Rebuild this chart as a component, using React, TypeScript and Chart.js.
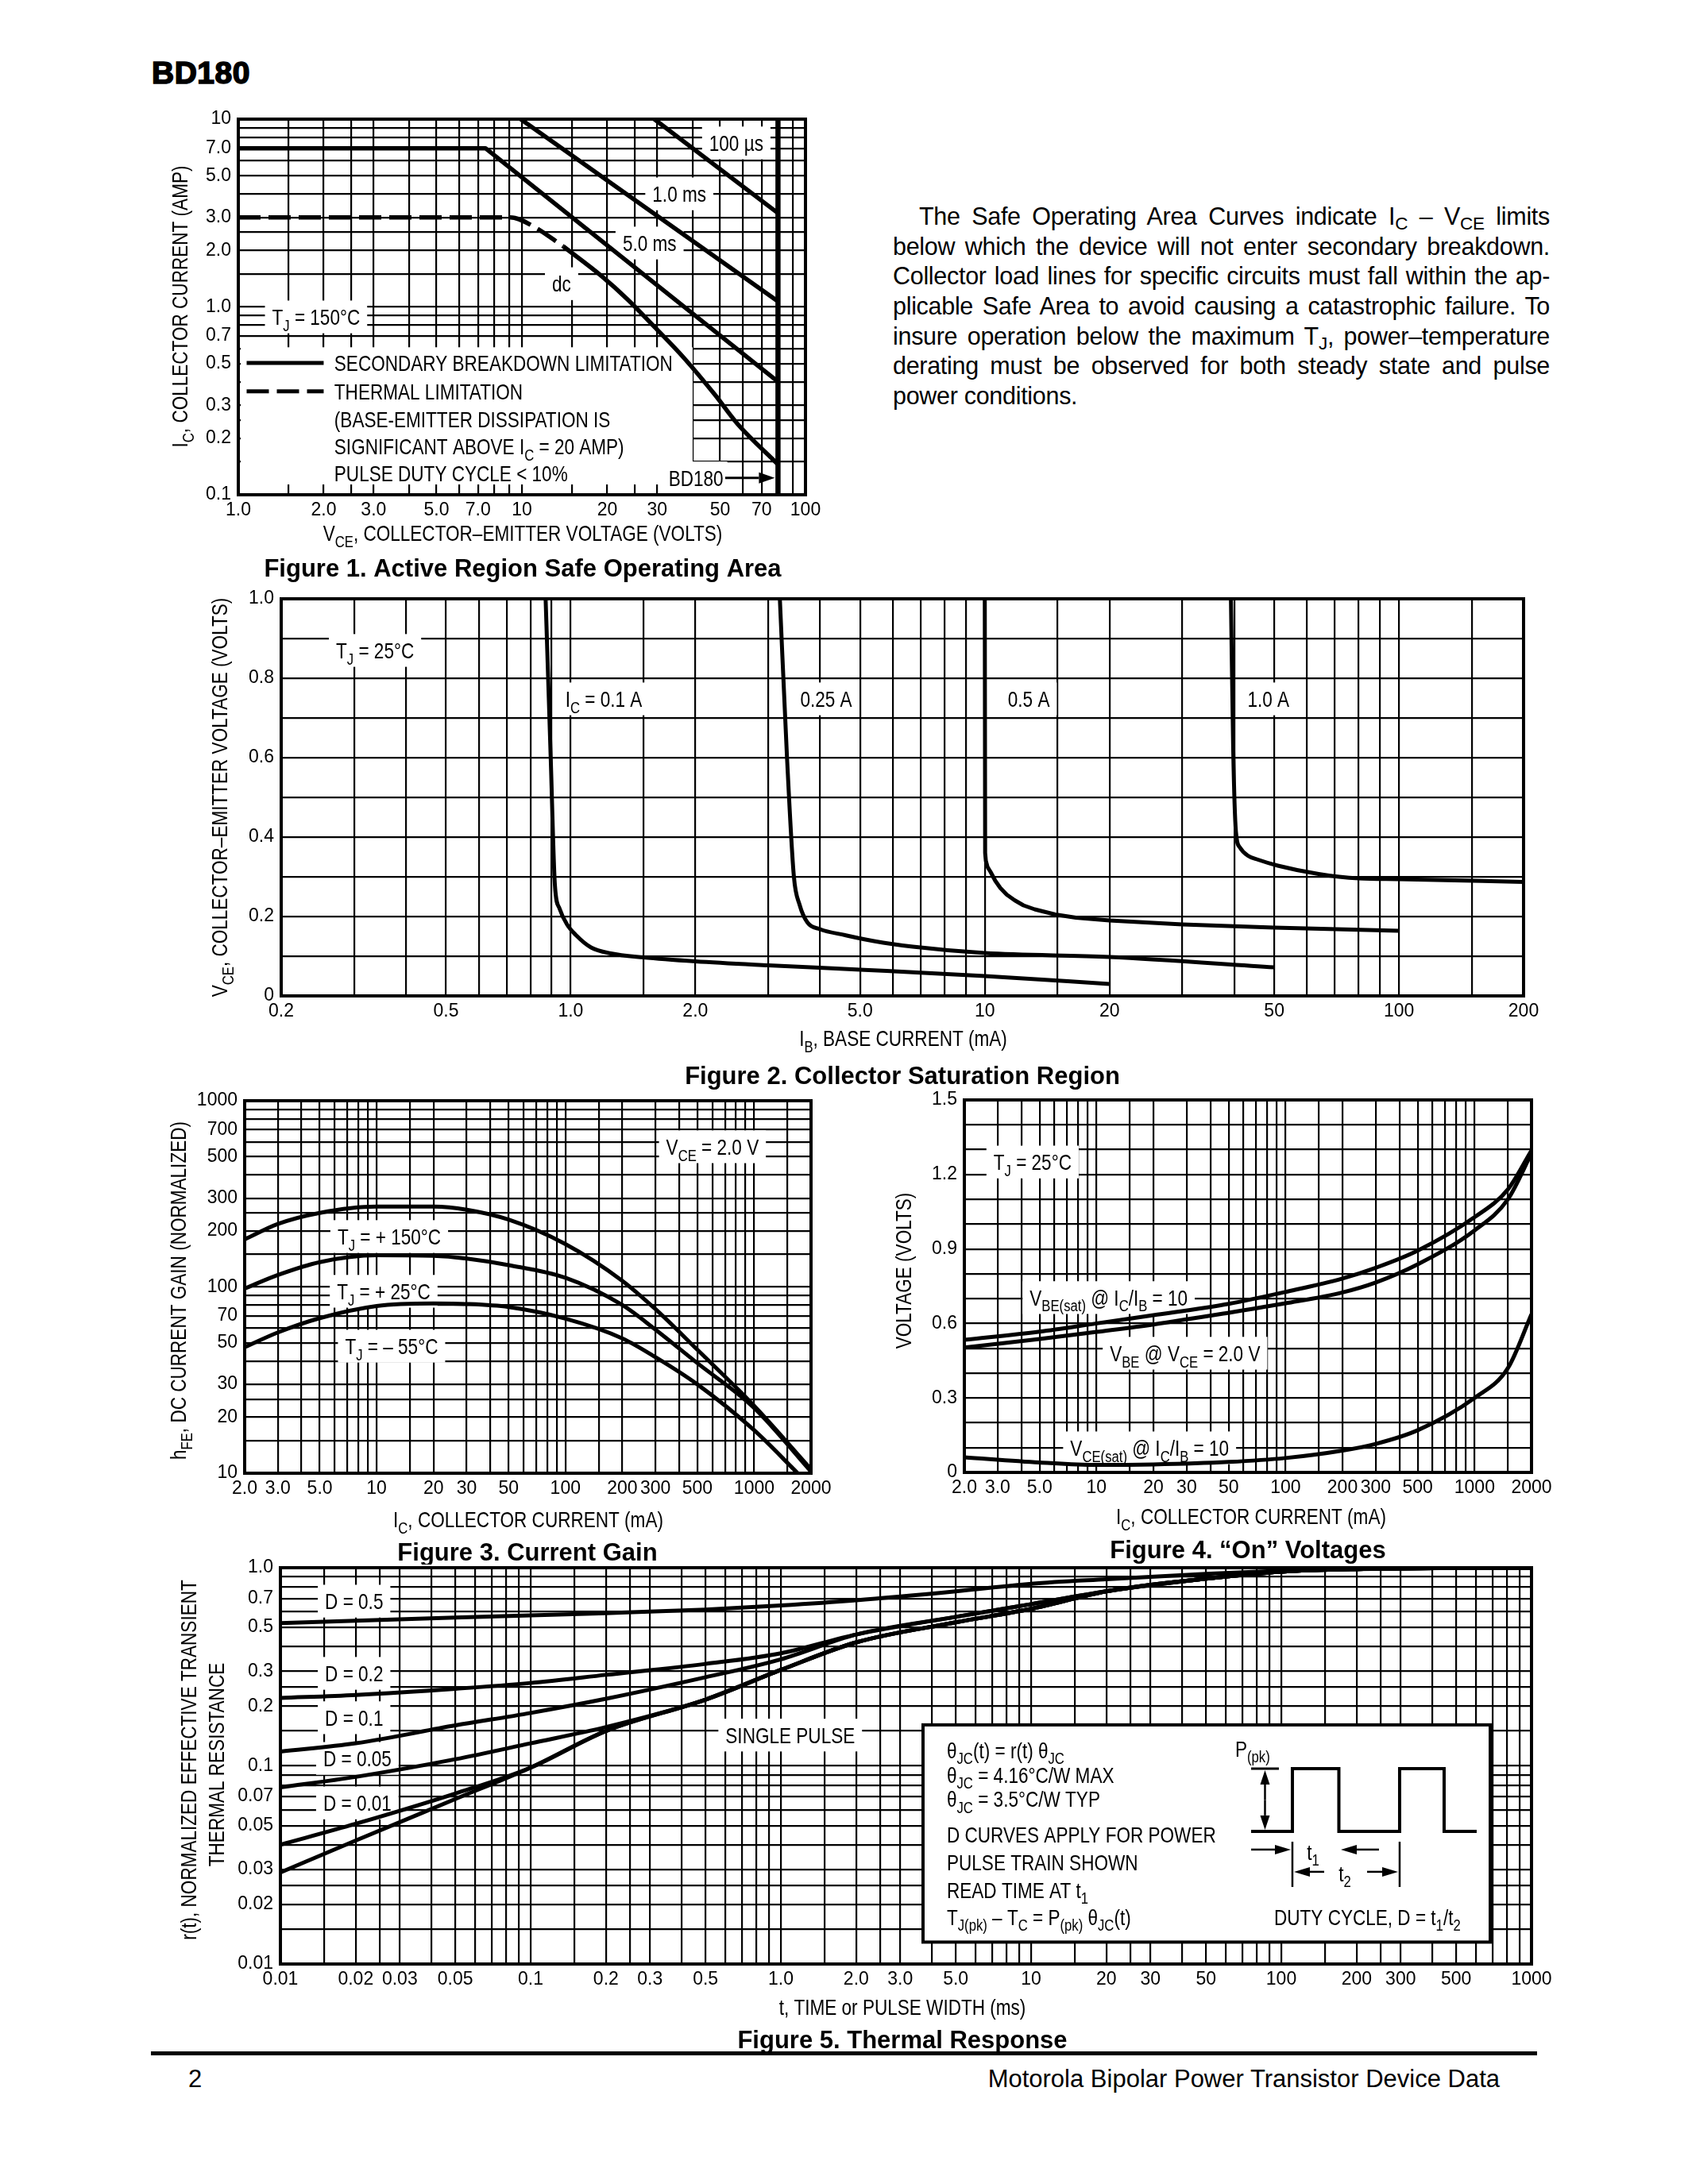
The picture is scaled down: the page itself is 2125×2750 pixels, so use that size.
import React, { useEffect, useRef } from 'react';
import { Chart, registerables } from 'chart.js';

Chart.register(...registerables);

// ======================= DATA =======================
// ---- Figure 1: Active Region Safe Operating Area (VCE volts, IC amps) ----
const F1_X_TICKS = [1, 2, 3, 5, 7, 10, 20, 30, 50, 70, 100];
const F1_X_LABELS = ['1.0', '2.0', '3.0', '5.0', '7.0', '10', '20', '30', '50', '70', '100'];
const F1_Y_TICKS = [0.1, 0.2, 0.3, 0.5, 0.7, 1, 2, 3, 5, 7, 10];
const F1_Y_LABELS = ['0.1', '0.2', '0.3', '0.5', '0.7', '1.0', '2.0', '3.0', '5.0', '7.0', '10'];
const F1_100US_V = [29.3, 80];
const F1_100US_I = [10, 3.16];
const F1_1MS_V = [9.9, 80];
const F1_1MS_I = [10, 1.07];
const F1_5MS_V = [1, 7.44, 80];
const F1_5MS_I = [7.0, 7.0, 0.4];
const F1_DC_THERMAL_V = [1, 9.1, 11.1, 14.0];
const F1_DC_THERMAL_I = [3.0, 3.0, 2.66, 2.1];
const F1_DC_SB_V = [14.0, 19.1, 23.7, 29.3, 37.5, 48, 57.5, 80];
const F1_DC_SB_I = [2.1, 1.46, 1.09, 0.785, 0.53, 0.34, 0.239, 0.145];
const F1_BD180_V = [80, 80];
const F1_BD180_I = [0.1, 10];

// ---- Figure 2: Collector Saturation Region (IB mA, VCE volts) ----
const F2_X_TICKS = [0.2, 0.5, 1, 2, 5, 10, 20, 50, 100, 200];
const F2_X_LABELS = ['0.2', '0.5', '1.0', '2.0', '5.0', '10', '20', '50', '100', '200'];
const F2_Y_TICKS = [0, 0.2, 0.4, 0.6, 0.8, 1.0];
const F2_Y_LABELS = ['0', '0.2', '0.4', '0.6', '0.8', '1.0'];
const F2_IC01_IB = [0.87, 0.895, 0.916, 0.94, 0.98, 1.03, 1.12, 1.25, 1.5, 2.0, 3.0, 5.0, 10, 20];
const F2_IC01_V = [1.0, 0.6, 0.28, 0.22, 0.18, 0.153, 0.122, 0.107, 0.097, 0.087, 0.077, 0.066, 0.05, 0.03];
const F2_IC025_IB = [3.2, 3.33, 3.46, 3.57, 3.73, 4.0, 4.6, 5.4, 6.7, 10, 20, 50];
const F2_IC025_V = [1.0, 0.6, 0.3, 0.23, 0.185, 0.168, 0.153, 0.138, 0.124, 0.108, 0.098, 0.072];
const F2_IC05_IB = [10.0, 10.02, 10.06, 10.15, 10.33, 10.6, 10.9, 11.3, 11.8, 12.4, 13.2, 14.8, 16.6, 20, 30, 50, 100];
const F2_IC05_V = [1.0, 0.36, 0.34, 0.325, 0.312, 0.29, 0.272, 0.255, 0.241, 0.228, 0.218, 0.205, 0.197, 0.19, 0.18, 0.172, 0.164];
const F2_IC1_IB = [39.3, 39.8, 40.4, 41.3, 43.2, 45.7, 51, 64, 80, 100, 200];
const F2_IC1_V = [1.0, 0.62, 0.414, 0.374, 0.353, 0.343, 0.328, 0.307, 0.296, 0.294, 0.287];

// ---- Figure 3: Current Gain (IC mA, hFE) ----
const F3_X_TICKS = [2, 3, 5, 10, 20, 30, 50, 100, 200, 300, 500, 1000, 2000];
const F3_X_LABELS = ['2.0', '3.0', '5.0', '10', '20', '30', '50', '100', '200', '300', '500', '1000', '2000'];
const F3_Y_TICKS = [10, 20, 30, 50, 70, 100, 200, 300, 500, 700, 1000];
const F3_Y_LABELS = ['10', '20', '30', '50', '70', '100', '200', '300', '500', '700', '1000'];
const F3_IC = [2, 3, 5, 10, 20, 30, 50, 100, 200, 300, 500, 1000, 2000];
const F3_HFE_150 = [180, 218, 250, 270, 270, 260, 230, 170, 108, 76, 46, 23, 10.5];
const F3_HFE_25 = [98, 116, 136, 148, 147, 142, 131, 112, 80, 59, 39, 22.4, 10.2];
const F3_IC_N55 = [2, 3, 5, 10, 20, 30, 50, 100, 200, 300, 500, 1000, 1700];
const F3_HFE_N55 = [47.5, 57, 68, 79, 81.5, 81, 78, 67.6, 53, 42, 30, 17, 10];

// ---- Figure 4: "On" Voltages (IC mA, volts) ----
const F4_X_TICKS = [2, 3, 5, 10, 20, 30, 50, 100, 200, 300, 500, 1000, 2000];
const F4_X_LABELS = ['2.0', '3.0', '5.0', '10', '20', '30', '50', '100', '200', '300', '500', '1000', '2000'];
const F4_Y_TICKS = [0, 0.3, 0.6, 0.9, 1.2, 1.5];
const F4_Y_LABELS = ['0', '0.3', '0.6', '0.9', '1.2', '1.5'];
const F4_IC = [2, 5, 10, 20, 50, 100, 200, 300, 500, 1000, 1500, 2000];
const F4_VBE_SAT = [0.534, 0.567, 0.6, 0.633, 0.679, 0.727, 0.781, 0.824, 0.893, 1.028, 1.14, 1.297];
const F4_VBE_ON = [0.503, 0.537, 0.566, 0.596, 0.643, 0.681, 0.725, 0.765, 0.838, 0.975, 1.1, 1.285];
const F4_VCE_SAT = [0.061, 0.04, 0.03, 0.032, 0.042, 0.058, 0.088, 0.115, 0.17, 0.3, 0.42, 0.637];

// ---- Figure 5: Thermal Response (t ms, r(t)) ----
const F5_X_TICKS = [0.01, 0.02, 0.03, 0.05, 0.1, 0.2, 0.3, 0.5, 1, 2, 3, 5, 10, 20, 30, 50, 100, 200, 300, 500, 1000];
const F5_X_LABELS = ['0.01', '0.02', '0.03', '0.05', '0.1', '0.2', '0.3', '0.5', '1.0', '2.0', '3.0', '5.0', '10', '20', '30', '50', '100', '200', '300', '500', '1000'];
const F5_Y_TICKS = [0.01, 0.02, 0.03, 0.05, 0.07, 0.1, 0.2, 0.3, 0.5, 0.7, 1];
const F5_Y_LABELS = ['0.01', '0.02', '0.03', '0.05', '0.07', '0.1', '0.2', '0.3', '0.5', '0.7', '1.0'];
const F5_T = [0.01, 0.02, 0.05, 0.1, 0.2, 0.5, 1, 2, 5, 10, 20, 50, 100, 200, 500, 1000];
const F5_D05 = [0.525, 0.54, 0.56, 0.575, 0.59, 0.615, 0.645, 0.685, 0.76, 0.83, 0.875, 0.93, 0.965, 0.985, 0.997, 1.0];
const F5_D02 = [0.22, 0.228, 0.245, 0.262, 0.288, 0.327, 0.37, 0.46, 0.565, 0.655, 0.76, 0.88, 0.955, 0.985, 0.997, 1.0];
const F5_D01 = [0.118, 0.13, 0.16, 0.185, 0.218, 0.28, 0.345, 0.46, 0.565, 0.655, 0.76, 0.88, 0.955, 0.985, 0.997, 1.0];
const F5_D005 = [0.078, 0.088, 0.108, 0.13, 0.157, 0.216, 0.305, 0.42, 0.53, 0.62, 0.76, 0.88, 0.955, 0.985, 0.997, 1.0];
const F5_D001 = [0.04, 0.051, 0.0725, 0.098, 0.15, 0.216, 0.305, 0.42, 0.53, 0.62, 0.76, 0.88, 0.955, 0.985, 0.997, 1.0];
const F5_SINGLE = [0.029, 0.042, 0.068, 0.098, 0.15, 0.216, 0.305, 0.42, 0.53, 0.62, 0.76, 0.88, 0.955, 0.985, 0.997, 1.0];

// ======================= FONTS / TEXT HELPERS =======================
function detectFont(name: string): boolean {
  try {
    const ctx = document.createElement('canvas').getContext('2d');
    if (!ctx) return false;
    const s = 'mmmmmmmmmmlliWWW0123456789';
    ctx.font = '50px monospace';
    const a = ctx.measureText(s).width;
    ctx.font = `50px "${name}", monospace`;
    const b = ctx.measureText(s).width;
    return Math.abs(a - b) > 0.5;
  } catch (e) {
    return false;
  }
}
const HAS_NARROW = detectFont('Liberation Sans Narrow');
const FAM = HAS_NARROW ? '"Liberation Sans Narrow", "Liberation Sans", sans-serif' : '"Liberation Sans", Arial, sans-serif';
const SX = HAS_NARROW ? 1 : 0.82;
const TXT = 27.5;
const BOLD_FAM = '"Liberation Sans", Arial, sans-serif';
const TICK_FONT = { family: HAS_NARROW ? '"Liberation Sans Narrow"' : '"Liberation Sans"', size: HAS_NARROW ? 27 : 23 };

type Seg = { t: string; sub: boolean };
function parseRich(s: string): Seg[] {
  const out: Seg[] = [];
  const re = /_\{([^}]*)\}/g;
  let last = 0;
  let m: RegExpExecArray | null;
  while ((m = re.exec(s))) {
    if (m.index > last) out.push({ t: s.slice(last, m.index), sub: false });
    out.push({ t: m[1], sub: true });
    last = re.lastIndex;
  }
  if (last < s.length) out.push({ t: s.slice(last), sub: false });
  return out;
}
type TOpt = { size?: number; bold?: boolean; fam?: string; sx?: number; align?: 'left' | 'center' | 'right' };
function fontStr(size: number, bold: boolean, fam: string) {
  return `${bold ? 'bold ' : ''}${size}px ${fam}`;
}
function richWidth(ctx: CanvasRenderingContext2D, s: string, o: TOpt = {}) {
  const size = o.size ?? TXT, bold = !!o.bold, fam = o.fam ?? FAM, sx = o.sx ?? SX;
  let w = 0;
  for (const seg of parseRich(s)) {
    ctx.font = fontStr(seg.sub ? size * 0.74 : size, bold, fam);
    w += ctx.measureText(seg.t).width;
  }
  return w * sx;
}
function drawRich(ctx: CanvasRenderingContext2D, s: string, x: number, yBase: number, o: TOpt = {}) {
  const size = o.size ?? TXT, bold = !!o.bold, fam = o.fam ?? FAM, sx = o.sx ?? SX, align = o.align ?? 'left';
  const w = richWidth(ctx, s, o);
  const x0 = align === 'center' ? x - w / 2 : align === 'right' ? x - w : x;
  ctx.save();
  ctx.translate(x0, yBase);
  ctx.scale(sx, 1);
  ctx.fillStyle = '#000';
  ctx.textAlign = 'left';
  ctx.textBaseline = 'alphabetic';
  let cx = 0;
  for (const seg of parseRich(s)) {
    const sz = seg.sub ? size * 0.74 : size;
    ctx.font = fontStr(sz, bold, fam);
    ctx.fillText(seg.t, cx, seg.sub ? size * 0.28 : 0);
    cx += ctx.measureText(seg.t).width;
  }
  ctx.restore();
  return w;
}
function drawCentered(ctx: CanvasRenderingContext2D, s: string, cx: number, cy: number, o: TOpt = {}) {
  const size = o.size ?? TXT;
  drawRich(ctx, s, cx, cy + size * 0.36, { ...o, align: 'center' });
}
function drawRotated(ctx: CanvasRenderingContext2D, s: string, cx: number, cy: number, o: TOpt = {}) {
  const size = o.size ?? TXT;
  ctx.save();
  ctx.translate(cx, cy);
  ctx.rotate(-Math.PI / 2);
  drawRich(ctx, s, 0, size * 0.36, { ...o, align: 'center' });
  ctx.restore();
}
function boxLabel(ctx: CanvasRenderingContext2D, s: string, cx: number, cy: number, padX = 9) {
  const size = TXT;
  const w = richWidth(ctx, s);
  ctx.fillStyle = '#fff';
  ctx.fillRect(cx - w / 2 - padX, cy - size * 0.75, w + 2 * padX, size * 1.5);
  drawRich(ctx, s, cx, cy + size * 0.36, { align: 'center' });
}
function leftLabel(ctx: CanvasRenderingContext2D, s: string, x: number, cy: number) {
  drawRich(ctx, s, x, cy + TXT * 0.36, {});
}
function arrow(ctx: CanvasRenderingContext2D, x0: number, y0: number, x1: number, y1: number, len = 18, half = 6, lw = 2.5) {
  const ang = Math.atan2(y1 - y0, x1 - x0);
  const bx = x1 - Math.cos(ang) * len, by = y1 - Math.sin(ang) * len;
  ctx.lineWidth = lw;
  ctx.strokeStyle = '#000';
  ctx.setLineDash([]);
  ctx.beginPath();
  ctx.moveTo(x0, y0);
  ctx.lineTo(bx, by);
  ctx.stroke();
  ctx.fillStyle = '#000';
  ctx.beginPath();
  ctx.moveTo(x1, y1);
  ctx.lineTo(bx - Math.sin(ang) * half, by + Math.cos(ang) * half);
  ctx.lineTo(bx + Math.sin(ang) * half, by - Math.cos(ang) * half);
  ctx.closePath();
  ctx.fill();
}

// ======================= GRID HELPERS =======================
const MANT_A = [1, 1.5, 2, 2.5, 3, 4, 5, 6, 7, 8, 9];
const MANT_B = [1, 1.5, 2, 3, 4, 5, 6, 7, 8, 9];
function logGrid(min: number, max: number, mant: number[]) {
  const out: number[] = [];
  for (let e = -3; e <= 4; e++)
    for (const m of mant) {
      const v = parseFloat((m * Math.pow(10, e)).toPrecision(6));
      if (v >= min * 0.9999 && v <= max * 1.0001) out.push(v);
    }
  return out.sort((a, b) => a - b);
}
function linGrid(max: number, step: number) {
  const out: number[] = [];
  for (let i = 0; i * step <= max + 1e-9; i++) out.push(parseFloat((i * step).toFixed(6)));
  return out;
}
function lookup(v: number, ticks: number[], labels: string[]) {
  const i = ticks.findIndex((t) => Math.abs(t - v) <= 1e-6 * Math.max(1e-3, Math.abs(t)));
  return i >= 0 ? labels[i] : '';
}
const pts = (xs: number[], ys: number[]) => xs.map((x, i) => ({ x, y: ys[i] }));
function line(xs: number[], ys: number[], o: any = {}) {
  return {
    data: pts(xs, ys),
    showLine: true,
    borderColor: '#000',
    backgroundColor: '#000',
    borderWidth: 5,
    pointRadius: 0,
    pointHoverRadius: 0,
    fill: false,
    tension: 0,
    borderCapStyle: 'butt',
    borderJoinStyle: 'round',
    ...o,
  };
}

type Axis = { type: 'logarithmic' | 'linear'; min: number; max: number; grid: number[]; ticks: number[]; labels: string[] };
type Fn = (ctx: CanvasRenderingContext2D, X: (v: number) => number, Y: (v: number) => number) => void;
type FigSpec = {
  id: string;
  canvas: [number, number, number, number];
  plot: [number, number, number, number];
  x: Axis;
  y: Axis;
  datasets: any[];
  before?: Fn;
  after?: Fn;
  page?: (ctx: CanvasRenderingContext2D) => void;
};

function makeConfig(spec: FigSpec): any {
  const [cx, cy, cw, ch] = spec.canvas;
  const [pl, pt, pr, pb] = spec.plot;
  const axis = (a: Axis, isX: boolean) => ({
    type: a.type,
    min: a.min,
    max: a.max,
    bounds: 'data',
    afterBuildTicks: (s: any) => {
      s.ticks = a.grid.map((v) => ({ value: v }));
    },
    afterFit: (s: any) => {
      if (isX) {
        s.height = cy + ch - pb;
        s.paddingLeft = 0;
        s.paddingRight = 0;
      } else {
        s.width = pl - cx;
        s.paddingTop = 0;
        s.paddingBottom = 0;
      }
    },
    ticks: {
      autoSkip: false,
      maxRotation: 0,
      minRotation: 0,
      padding: isX ? 6 : 9,
      color: '#000',
      font: TICK_FONT,
      callback: (v: number) => lookup(v, a.ticks, a.labels),
    },
    grid: { color: '#000', lineWidth: 2.2, drawTicks: false },
    border: { color: '#000', width: 4 },
  });
  const getXY = (chart: any) => ({
    X: (v: number) => chart.scales.x.getPixelForValue(v),
    Y: (v: number) => chart.scales.y.getPixelForValue(v),
  });
  const deco = {
    id: 'deco_' + spec.id,
    beforeDatasetsDraw(chart: any) {
      const ctx = chart.ctx;
      const { X, Y } = getXY(chart);
      ctx.save();
      spec.before && spec.before(ctx, X, Y);
      ctx.restore();
    },
    afterDatasetsDraw(chart: any) {
      const ctx = chart.ctx;
      const { X, Y } = getXY(chart);
      const a = chart.chartArea;
      ctx.save();
      ctx.setLineDash([]);
      ctx.lineWidth = 4;
      ctx.strokeStyle = '#000';
      ctx.strokeRect(a.left, a.top, a.right - a.left, a.bottom - a.top);
      spec.after && spec.after(ctx, X, Y);
      ctx.restore();
    },
    afterDraw(chart: any) {
      const ctx = chart.ctx;
      ctx.save();
      ctx.translate(-cx, -cy);
      spec.page && spec.page(ctx);
      ctx.restore();
    },
  };
  return {
    type: 'scatter',
    data: { datasets: spec.datasets },
    options: {
      responsive: false,
      maintainAspectRatio: false,
      animation: false,
      devicePixelRatio: 1,
      events: [],
      layout: { padding: { left: 0, top: pt - cy, right: cx + cw - pr, bottom: 0 } },
      plugins: { legend: { display: false }, tooltip: { enabled: false }, title: { display: false } },
      scales: { x: axis(spec.x, true), y: axis(spec.y, false) },
    },
    plugins: [deco],
  };
}

const caption = (ctx: CanvasRenderingContext2D, s: string, cx: number, cy: number) =>
  drawCentered(ctx, s, cx, cy, { size: 31, bold: true, fam: BOLD_FAM, sx: 1 });

// ======================= FIGURE SPECS =======================
const FIG1: FigSpec = {
  id: 'f1',
  canvas: [180, 120, 880, 620],
  plot: [300, 150, 1014, 623],
  x: { type: 'logarithmic', min: 1, max: 100, grid: logGrid(1, 100, MANT_A), ticks: F1_X_TICKS, labels: F1_X_LABELS },
  y: { type: 'logarithmic', min: 0.1, max: 10, grid: logGrid(0.1, 10, MANT_A), ticks: F1_Y_TICKS, labels: F1_Y_LABELS },
  datasets: [
    line(F1_100US_V, F1_100US_I, { borderWidth: 5.5 }),
    line(F1_1MS_V, F1_1MS_I, { borderWidth: 5.5 }),
    line(F1_5MS_V, F1_5MS_I, { borderWidth: 5.5 }),
    line(F1_DC_THERMAL_V, F1_DC_THERMAL_I, { borderWidth: 5.5, borderDash: [28, 10], cubicInterpolationMode: 'monotone' }),
    line(F1_DC_SB_V, F1_DC_SB_I, { borderWidth: 5.5, cubicInterpolationMode: 'monotone' }),
    line(F1_BD180_V, F1_BD180_I, { borderWidth: 6.5 }),
  ],
  before: (ctx, X, Y) => {
    ctx.fillStyle = '#fff';
    ctx.fillRect(X(1.02), Y(0.61), X(40) - X(1.02), Y(0.1135) - Y(0.61));
    boxLabel(ctx, '100 µs', X(57), Y(7.47));
    boxLabel(ctx, '1.0 ms', X(35.9), Y(4.0));
    boxLabel(ctx, '5.0 ms', X(28.2), Y(2.19));
    boxLabel(ctx, 'dc', X(13.8), Y(1.33));
    boxLabel(ctx, 'T_{J} = 150°C', X(1.88), Y(0.885));
    boxLabel(ctx, 'BD180', X(41.1), Y(0.123), 5);
    const lx = X(2.18);
    leftLabel(ctx, 'SECONDARY BREAKDOWN LIMITATION', lx, Y(0.504));
    leftLabel(ctx, 'THERMAL LIMITATION', lx, Y(0.355));
    leftLabel(ctx, '(BASE-EMITTER DISSIPATION IS', lx, Y(0.252));
    leftLabel(ctx, 'SIGNIFICANT ABOVE I_{C} = 20 AMP)', lx, Y(0.181));
    leftLabel(ctx, 'PULSE DUTY CYCLE < 10%', lx, Y(0.13));
  },
  after: (ctx, X, Y) => {
    ctx.strokeStyle = '#000';
    ctx.lineWidth = 5;
    ctx.beginPath();
    ctx.moveTo(X(1.07), Y(0.504));
    ctx.lineTo(X(2.0), Y(0.504));
    ctx.stroke();
    ctx.setLineDash([28, 10]);
    ctx.beginPath();
    ctx.moveTo(X(1.07), Y(0.355));
    ctx.lineTo(X(2.0), Y(0.355));
    ctx.stroke();
    ctx.setLineDash([]);
    arrow(ctx, X(52.1), Y(0.123), X(80) - 4, Y(0.123), 20, 7, 3);
  },
  page: (ctx) => {
    drawRotated(ctx, 'I_{C}, COLLECTOR CURRENT (AMP)', 226, 386);
    drawCentered(ctx, 'V_{CE}, COLLECTOR–EMITTER VOLTAGE (VOLTS)', 658, 671);
    caption(ctx, 'Figure 1. Active Region Safe Operating Area', 658, 715);
  },
};

const FIG2: FigSpec = {
  id: 'f2',
  canvas: [230, 730, 1740, 650],
  plot: [354, 754, 1918, 1254],
  x: { type: 'logarithmic', min: 0.2, max: 200, grid: logGrid(0.2, 200, MANT_B), ticks: F2_X_TICKS, labels: F2_X_LABELS },
  y: { type: 'linear', min: 0, max: 1, grid: linGrid(1, 0.1), ticks: F2_Y_TICKS, labels: F2_Y_LABELS },
  datasets: [
    line(F2_IC01_IB, F2_IC01_V, { cubicInterpolationMode: 'monotone' }),
    line(F2_IC025_IB, F2_IC025_V, { cubicInterpolationMode: 'monotone' }),
    line(F2_IC05_IB, F2_IC05_V, { tension: 0 }),
    line(F2_IC1_IB, F2_IC1_V, { cubicInterpolationMode: 'monotone' }),
  ],
  before: (ctx, X, Y) => {
    boxLabel(ctx, 'T_{J} = 25°C', X(0.337), Y(0.87));
    boxLabel(ctx, 'I_{C} = 0.1 A', X(1.202), Y(0.748));
    boxLabel(ctx, '0.25 A', X(4.14), Y(0.748));
    boxLabel(ctx, '0.5 A', X(12.77), Y(0.748));
    boxLabel(ctx, '1.0 A', X(48.4), Y(0.748));
  },
  page: (ctx) => {
    drawRotated(ctx, 'V_{CE}, COLLECTOR–EMITTER VOLTAGE (VOLTS)', 276, 1004);
    drawCentered(ctx, 'I_{B}, BASE CURRENT (mA)', 1137, 1307);
    caption(ctx, 'Figure 2. Collector Saturation Region', 1136, 1354);
  },
};

const FIG3: FigSpec = {
  id: 'f3',
  canvas: [180, 1360, 890, 610],
  plot: [308, 1386, 1021, 1855],
  x: { type: 'logarithmic', min: 2, max: 2000, grid: logGrid(2, 2000, MANT_B), ticks: F3_X_TICKS, labels: F3_X_LABELS },
  y: { type: 'logarithmic', min: 10, max: 1000, grid: logGrid(10, 1000, MANT_A), ticks: F3_Y_TICKS, labels: F3_Y_LABELS },
  datasets: [
    line(F3_IC, F3_HFE_150, { cubicInterpolationMode: 'monotone' }),
    line(F3_IC, F3_HFE_25, { cubicInterpolationMode: 'monotone' }),
    line(F3_IC_N55, F3_HFE_N55, { cubicInterpolationMode: 'monotone' }),
  ],
  before: (ctx, X, Y) => {
    boxLabel(ctx, 'V_{CE} = 2.0 V', X(601), Y(566));
    boxLabel(ctx, 'T_{J} = + 150°C', X(11.66), Y(186.6));
    boxLabel(ctx, 'T_{J} = + 25°C', X(10.9), Y(94.8));
    boxLabel(ctx, 'T_{J} = – 55°C', X(12.0), Y(48.1));
  },
  page: (ctx) => {
    drawRotated(ctx, 'h_{FE}, DC CURRENT GAIN (NORMALIZED)', 224, 1625);
    drawCentered(ctx, 'I_{C}, COLLECTOR CURRENT (mA)', 665, 1913);
    caption(ctx, 'Figure 3. Current Gain', 664, 1954);
  },
};

const FIG4: FigSpec = {
  id: 'f4',
  canvas: [1090, 1360, 880, 610],
  plot: [1214, 1385, 1928, 1854],
  x: { type: 'logarithmic', min: 2, max: 2000, grid: logGrid(2, 2000, MANT_B), ticks: F4_X_TICKS, labels: F4_X_LABELS },
  y: { type: 'linear', min: 0, max: 1.5, grid: linGrid(1.5, 0.1), ticks: F4_Y_TICKS, labels: F4_Y_LABELS },
  datasets: [
    line(F4_IC, F4_VBE_SAT, { cubicInterpolationMode: 'monotone' }),
    line(F4_IC, F4_VBE_ON, { cubicInterpolationMode: 'monotone' }),
    line(F4_IC, F4_VCE_SAT, { cubicInterpolationMode: 'monotone' }),
  ],
  before: (ctx, X, Y) => {
    boxLabel(ctx, 'T_{J} = 25°C', X(4.59), Y(1.25));
    boxLabel(ctx, 'V_{BE(sat)} @ I_{C}/I_{B} = 10', X(11.6), Y(0.704));
    boxLabel(ctx, 'V_{BE} @ V_{CE} = 2.0 V', X(29.4), Y(0.48));
    boxLabel(ctx, 'V_{CE(sat)} @ I_{C}/I_{B} = 10', X(19.1), Y(0.099));
  },
  page: (ctx) => {
    drawRotated(ctx, 'VOLTAGE (VOLTS)', 1137, 1600);
    drawCentered(ctx, 'I_{C}, COLLECTOR CURRENT (mA)', 1575, 1909);
    caption(ctx, 'Figure 4. “On” Voltages', 1571, 1951);
  },
};

const FIG5: FigSpec = {
  id: 'f5',
  canvas: [180, 1950, 1790, 640],
  plot: [353, 1974, 1928, 2473],
  x: { type: 'logarithmic', min: 0.01, max: 1000, grid: logGrid(0.01, 1000, MANT_A), ticks: F5_X_TICKS, labels: F5_X_LABELS },
  y: { type: 'logarithmic', min: 0.01, max: 1, grid: logGrid(0.01, 1, MANT_A), ticks: F5_Y_TICKS, labels: F5_Y_LABELS },
  datasets: [
    line(F5_T, F5_D05, { cubicInterpolationMode: 'monotone' }),
    line(F5_T, F5_D02, { cubicInterpolationMode: 'monotone' }),
    line(F5_T, F5_D01, { cubicInterpolationMode: 'monotone' }),
    line(F5_T, F5_D005, { cubicInterpolationMode: 'monotone' }),
    line(F5_T, F5_D001, { cubicInterpolationMode: 'monotone' }),
    line(F5_T, F5_SINGLE, { cubicInterpolationMode: 'monotone' }),
  ],
  before: (ctx, X, Y) => {
    boxLabel(ctx, 'D = 0.5', X(0.0197), Y(0.678));
    boxLabel(ctx, 'D = 0.2', X(0.0197), Y(0.293));
    boxLabel(ctx, 'D = 0.1', X(0.0197), Y(0.175));
    boxLabel(ctx, 'D = 0.05', X(0.0203), Y(0.109));
    boxLabel(ctx, 'D = 0.01', X(0.0203), Y(0.065));
    boxLabel(ctx, 'SINGLE PULSE', X(1.09), Y(0.143));
  },
  after: (ctx, X, Y) => {
    const L = X(3.7), R = X(684), T = Y(0.161), B = Y(0.0129);
    ctx.fillStyle = '#fff';
    ctx.fillRect(L, T, R - L, B - T);
    ctx.lineWidth = 4;
    ctx.strokeStyle = '#000';
    ctx.strokeRect(L, T, R - L, B - T);
    const lines = [
      'θ_{JC}(t) = r(t) θ_{JC}',
      'θ_{JC} = 4.16°C/W MAX',
      'θ_{JC} = 3.5°C/W TYP',
      'D CURVES APPLY FOR POWER',
      'PULSE TRAIN SHOWN',
      'READ TIME AT t_{1}',
      'T_{J(pk)} – T_{C} = P_{(pk)} θ_{JC}(t)',
    ];
    const ys = [32, 63, 93.5, 138, 173, 208, 242];
    lines.forEach((s, i) => leftLabel(ctx, s, L + 30, T + ys[i]));
    leftLabel(ctx, 'DUTY CYCLE, D = t_{1}/t_{2}', L + 442, T + 242);
    leftLabel(ctx, 'P_{(pk)}', L + 393, T + 30);
    // pulse train
    const lo = T + 134, hi = T + 55;
    ctx.lineWidth = 4;
    ctx.beginPath();
    ctx.moveTo(L + 413, lo);
    ctx.lineTo(L + 465, lo);
    ctx.lineTo(L + 465, hi);
    ctx.lineTo(L + 523.5, hi);
    ctx.lineTo(L + 523.5, lo);
    ctx.lineTo(L + 600, lo);
    ctx.lineTo(L + 600, hi);
    ctx.lineTo(L + 656, hi);
    ctx.lineTo(L + 656, lo);
    ctx.lineTo(L + 697, lo);
    ctx.stroke();
    ctx.lineWidth = 3;
    ctx.beginPath();
    ctx.moveTo(L + 413, hi);
    ctx.lineTo(L + 448, hi);
    ctx.stroke();
    arrow(ctx, L + 430.5, (hi + lo) / 2, L + 430.5, hi + 2, 18, 6, 2.5);
    arrow(ctx, L + 430.5, (hi + lo) / 2, L + 430.5, lo - 2, 18, 6, 2.5);
    // t1
    arrow(ctx, L + 413, T + 157, L + 463, T + 157, 20, 6, 2.5);
    arrow(ctx, L + 574, T + 157, L + 526, T + 157, 20, 6, 2.5);
    drawCentered(ctx, 't_{1}', L + 491, T + 160);
    // t2
    ctx.lineWidth = 2.5;
    ctx.beginPath();
    ctx.moveTo(L + 465, T + 147);
    ctx.lineTo(L + 465, T + 204);
    ctx.moveTo(L + 600, T + 147);
    ctx.lineTo(L + 600, T + 204);
    ctx.stroke();
    arrow(ctx, L + 505, T + 185, L + 467, T + 185, 20, 6, 2.5);
    arrow(ctx, L + 559, T + 185, L + 598, T + 185, 20, 6, 2.5);
    drawCentered(ctx, 't_{2}', L + 531, T + 187);
  },
  page: (ctx) => {
    drawRotated(ctx, 'r(t), NORMALIZED EFFECTIVE TRANSIENT', 237, 2216);
    drawRotated(ctx, 'THERMAL RESISTANCE', 272, 2222);
    drawCentered(ctx, 't, TIME or PULSE WIDTH (ms)', 1136, 2527);
    caption(ctx, 'Figure 5. Thermal Response', 1136, 2568);
  },
};

// ======================= COMPONENTS =======================
function ChartCanvas({ spec }: { spec: FigSpec }) {
  const ref = useRef<HTMLCanvasElement | null>(null);
  useEffect(() => {
    if (!ref.current) return;
    const chart = new Chart(ref.current, makeConfig(spec));
    return () => chart.destroy();
  }, [spec]);
  const [x, y, w, h] = spec.canvas;
  return (
    <canvas
      ref={ref}
      width={w}
      height={h}
      style={{ position: 'absolute', left: x, top: y, width: w, height: h }}
    />
  );
}

const Sub = ({ children }: { children: React.ReactNode }) => (
  <span style={{ fontSize: '0.74em', verticalAlign: '-0.28em', lineHeight: 0 }}>{children}</span>
);

const PARA_LINES: React.ReactNode[] = [
  <>The Safe Operating Area Curves indicate I<Sub>C</Sub> – V<Sub>CE</Sub> limits</>,
  <>below which the device will not enter secondary breakdown.</>,
  <>Collector load lines for specific circuits must fall within the ap-</>,
  <>plicable Safe Area to avoid causing a catastrophic failure. To</>,
  <>insure operation below the maximum T<Sub>J</Sub>, power–temperature</>,
  <>derating must be observed for both steady state and pulse</>,
  <>power conditions.</>,
];

export default function App() {
  const sans = '"Liberation Sans", Arial, Helvetica, sans-serif';
  return (
    <div
      style={{
        position: 'absolute',
        left: 0,
        top: 0,
        width: 2125,
        height: 2750,
        background: '#fff',
        overflow: 'hidden',
        color: '#000',
      }}
    >
      <div
        style={{
          position: 'absolute',
          left: 191,
          top: 70,
          fontFamily: sans,
          fontWeight: 700,
          fontSize: 39,
          lineHeight: '43px',
          WebkitTextStroke: '1.6px #000',
          letterSpacing: 0.5,
        }}
      >
        BD180
      </div>

      <div
        style={{
          position: 'absolute',
          left: 1124,
          top: 254,
          width: 827,
          fontFamily: sans,
          fontSize: 30.5,
          letterSpacing: -0.3,
        }}
      >
        {PARA_LINES.map((ln, i) => (
          <div
            key={i}
            style={{
              height: 37.7,
              lineHeight: '37.7px',
              textAlign: 'justify',
              textAlignLast: i < PARA_LINES.length - 1 ? 'justify' : 'left',
              textIndent: i === 0 ? 33 : 0,
              whiteSpace: 'normal',
            }}
          >
            {ln}
          </div>
        ))}
      </div>

      <ChartCanvas spec={FIG1} />
      <ChartCanvas spec={FIG2} />
      <ChartCanvas spec={FIG3} />
      <ChartCanvas spec={FIG4} />
      <ChartCanvas spec={FIG5} />

      <div style={{ position: 'absolute', left: 190, top: 2583, width: 1745, height: 5, background: '#000' }} />
      <div style={{ position: 'absolute', left: 237, top: 2601, fontFamily: sans, fontSize: 31, lineHeight: '34.6px' }}>2</div>
      <div
        style={{
          position: 'absolute',
          left: 0,
          width: 1888,
          top: 2601,
          textAlign: 'right',
          fontFamily: sans,
          fontSize: 31,
          lineHeight: '34.6px',
        }}
      >
        Motorola Bipolar Power Transistor Device Data
      </div>
    </div>
  );
}
